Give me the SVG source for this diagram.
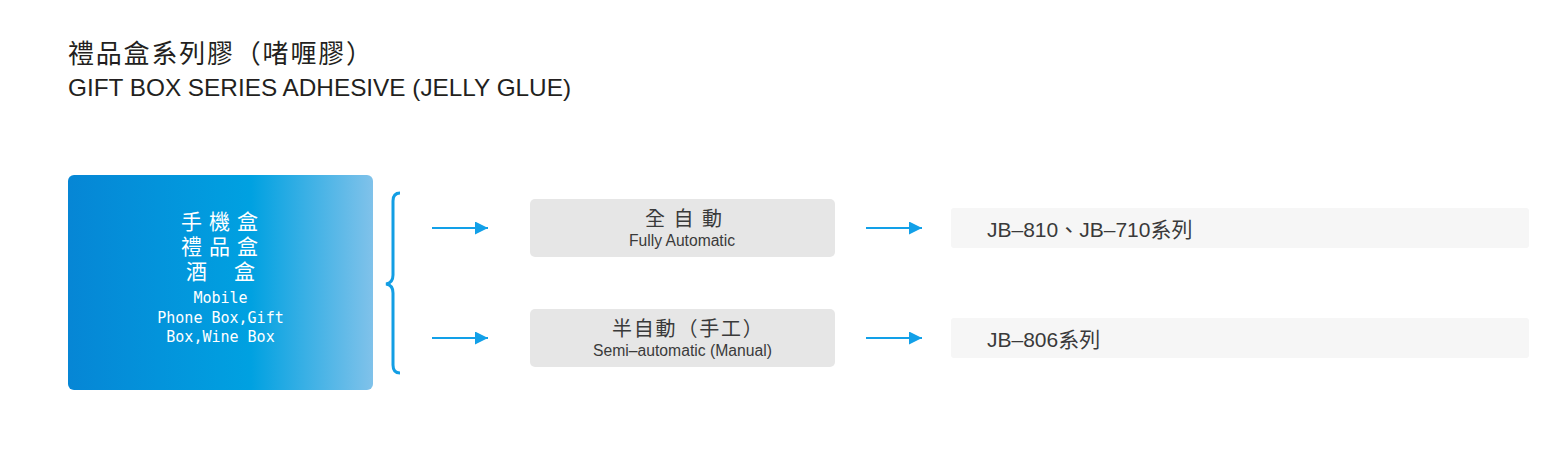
<svg xmlns="http://www.w3.org/2000/svg" width="1566" height="463" viewBox="0 0 1566 463">
<style>
.cjk{font-family:"Liberation Sans","Noto Sans CJK TC",sans-serif}
.title{fill:#231f20}
.wt{fill:#ffffff}
.mono{font-family:"DejaVu Sans Mono","Liberation Mono",monospace;font-size:15px;fill:#ffffff}
.dk{fill:#3a3a3a}
.conn{stroke:#12a0e8;stroke-width:2;fill:none}
</style>
<defs>
<linearGradient id="bg" x1="0" y1="0" x2="1" y2="0">
<stop offset="0" stop-color="#0686d5"/>
<stop offset="0.6" stop-color="#00a1e1"/>
<stop offset="1" stop-color="#80c2ea"/>
</linearGradient>
<marker id="ah" markerWidth="13" markerHeight="13" viewBox="0 0 13 13" refX="13" refY="6.5" orient="auto" markerUnits="userSpaceOnUse">
<path d="M0,0 L13,6.5 L0,13 Z" fill="#12a0e8"/>
</marker>
</defs>
<rect width="1566" height="463" fill="#ffffff"/>
<g id="title">
<text class="cjk title" x="68" y="63" font-size="26" letter-spacing="1.8">禮品盒系列膠（啫喱膠）</text>
<text class="cjk title" x="68" y="96" font-size="24" textLength="503" lengthAdjust="spacingAndGlyphs">GIFT BOX SERIES ADHESIVE (JELLY GLUE)</text>
</g>
<g id="source">
<rect x="68" y="175" width="305" height="215" rx="6" fill="url(#bg)"/>
<text class="cjk wt" x="181" y="228.5" font-size="21" letter-spacing="7">手機盒</text>
<text class="cjk wt" x="181" y="253.5" font-size="21" letter-spacing="7">禮品盒</text>
<text class="cjk wt" y="278.5" font-size="21"><tspan x="186">酒</tspan><tspan x="234">盒</tspan></text>
<text class="mono" x="220.5" y="303" text-anchor="middle">Mobile</text>
<text class="mono" x="220.5" y="323" text-anchor="middle">Phone Box,Gift</text>
<text class="mono" x="220.5" y="342" text-anchor="middle">Box,Wine Box</text>
</g>
<g id="auto">
<rect x="530" y="199" width="305" height="58" rx="5" fill="#e6e6e6"/>
<text class="cjk dk" x="645" y="226" font-size="20" letter-spacing="8.5">全自動</text>
<text class="cjk dk" x="629" y="246" font-size="16" textLength="106" lengthAdjust="spacingAndGlyphs">Fully Automatic</text>
</g>
<g id="semi">
<rect x="530" y="309" width="305" height="58" rx="5" fill="#e6e6e6"/>
<text class="cjk dk" x="612" y="336" font-size="20" letter-spacing="1.8">半自動（手工）</text>
<text class="cjk dk" x="593" y="356" font-size="16" textLength="179" lengthAdjust="spacingAndGlyphs">Semi–automatic (Manual)</text>
</g>
<g id="jb810">
<rect x="951" y="208" width="578" height="40" rx="3" fill="#f6f6f6"/>
<text class="cjk dk" x="987" y="237" font-size="21">JB–810、JB–710系列</text>
</g>
<g id="jb806">
<rect x="951" y="318" width="578" height="40" rx="3" fill="#f6f6f6"/>
<text class="cjk dk" x="987" y="347" font-size="21">JB–806系列</text>
</g>
<g id="connectors">
<path d="M400,193 Q393,193 393,201 L393,275 Q393,283 386,284 Q393,285 393,293 L393,365 Q393,373 400,373" stroke="#139ee4" stroke-width="3" fill="none"/>
<line class="conn" x1="432" y1="228" x2="488" y2="228" marker-end="url(#ah)"/>
<line class="conn" x1="432" y1="338" x2="488" y2="338" marker-end="url(#ah)"/>
<line class="conn" x1="866" y1="228" x2="922" y2="228" marker-end="url(#ah)"/>
<line class="conn" x1="866" y1="338" x2="922" y2="338" marker-end="url(#ah)"/>
</g>
</svg>
